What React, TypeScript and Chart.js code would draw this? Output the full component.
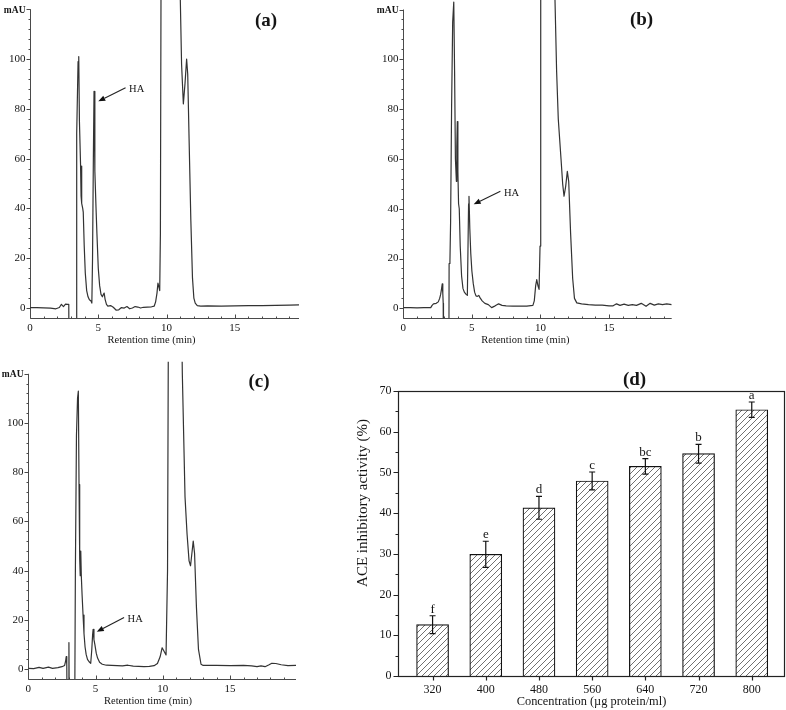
import React, { useEffect, useRef } from "react";
import { Chart, registerables } from "chart.js";

Chart.register(...registerables);

const SERIF = '"Liberation Serif", "Times New Roman", Times, serif';
const INK = "#151515";
const TRACE = "#333333";
const AXIS = "#4a4a4a";

// ---------- Panel (a) chromatogram ----------
const A_TIME = [0, 0.5, 1.0, 1.5, 1.9, 2.15, 2.3, 2.45, 2.6, 2.75, 2.84, 2.86, 3.37, 3.42, 3.52, 3.57, 3.62, 3.7, 3.74, 3.77, 3.8, 3.86, 3.9, 3.97, 4.05, 4.15, 4.25, 4.35, 4.47, 4.53, 4.58, 4.64, 4.69, 4.75, 4.83, 4.9, 5.0, 5.1, 5.2, 5.3, 5.38, 5.43, 5.5, 5.6, 5.7, 5.9, 6.1, 6.3, 6.5, 6.7, 6.9, 7.1, 7.3, 7.5, 7.7, 7.9, 8.1, 8.3, 8.6, 8.9, 9.1, 9.2, 9.3, 9.37, 9.44, 9.5, 9.55, 9.6, 10.3, 10.95, 11.1, 11.23, 11.35, 11.47, 11.55, 11.65, 11.78, 11.9, 12.0, 12.1, 12.25, 12.5, 13.0, 14.0, 15.0, 16.0, 17.0, 18.0, 19.0, 19.7];
const A_MAU = [0.2, 0.2, 0.1, 0.0, -0.3, 0.2, 1.5, 0.6, 1.6, 1.5, 1.5, -30, -30, 70, 99, 101, 75, 58, 45, 57, 42, 40, 38.5, 25, 14, 7, 4.5, 3.3, 2.8, 2.0, 20, 60, 87, 55, 41, 30, 16, 9, 5.5, 4.5, 5.5, 6.0, 3.5, 1.5, 0.8, 1.0, 0.3, -0.8, -0.7, 0.2, 0.0, 0.6, -0.3, 0.0, 0.6, 0.4, 0.0, 0.3, 0.4, 0.5, 0.8, 2.5, 6, 10, 8.5, 7, 30, 140, 600, 140, 98, 82, 90, 100, 94, 68, 35, 12, 4, 2, 1, 0.8, 0.9, 0.8, 0.9, 1.0, 1.0, 1.1, 1.2, 1.3];
const A_HA_FROM = [7.0, 88.5];
const A_HA_TO = [5.0, 83];

// ---------- Panel (b) chromatogram ----------
const B_TIME = [0, 0.5, 1.0, 1.5, 2.0, 2.1, 2.2, 2.4, 2.55, 2.65, 2.72, 2.78, 2.84, 2.88, 2.91, 2.93, 3.32, 3.34, 3.4, 3.45, 3.52, 3.6, 3.68, 3.74, 3.8, 3.87, 3.9, 3.94, 3.98, 4.03, 4.08, 4.15, 4.25, 4.35, 4.45, 4.58, 4.67, 4.76, 4.79, 4.85, 4.92, 5.0, 5.1, 5.2, 5.3, 5.4, 5.5, 5.6, 5.75, 5.95, 6.2, 6.44, 6.7, 6.95, 7.2, 7.5, 8.0, 8.5, 9.0, 9.45, 9.55, 9.65, 9.73, 9.82, 9.9, 9.97, 10.02, 10.5, 10.95, 11.06, 11.18, 11.3, 11.5, 11.62, 11.72, 11.84, 11.96, 12.06, 12.2, 12.35, 12.48, 12.65, 13.0, 13.5, 14.0, 14.5, 15.0, 15.3, 15.55, 15.8, 16.1, 16.4, 16.7, 17.0, 17.35, 17.7, 18.0, 18.3, 18.6, 18.9, 19.2, 19.57];
const B_MAU = [0.3, 0.3, 0.2, 0.3, 0.3, 1.2, 1.8, 2.0, 2.6, 4.0, 5.5, 7.5, 9.8, 6, 2, -30, -30, 18, 19, 35, 80, 115, 123, 95, 60, 51, 65, 75, 55, 42, 40, 25, 13, 8, 6.5, 5.6, 5.2, 42, 45, 32, 22, 15, 10, 6.5, 5.0, 4.8, 5.2, 4.2, 3.0, 2.0, 1.5, 0.3, 1.0, 1.8, 1.2, 1.0, 0.9, 0.9, 0.9, 1.2, 3, 9, 11.5, 9, 7.6, 25, 140, 600, 150, 124, 95, 76, 60, 50, 45, 49, 55, 51, 30, 12, 4, 2.2, 1.8, 1.5, 1.3, 1.3, 1.0, 1.0, 1.8, 1.2, 1.7, 1.2, 1.5, 1.2, 2.0, 0.8, 2.0, 1.3, 1.8, 1.5, 1.8, 1.5];
const B_HA_FROM = [7.08, 47];
const B_HA_TO = [5.13, 41.8];

// ---------- Panel (c) chromatogram ----------
const C_TIME = [0, 0.4, 0.8, 1.1, 1.5, 1.8, 2.2, 2.5, 2.7, 2.78, 2.82, 2.86, 2.9, 2.98, 3.02, 3.06, 3.44, 3.5, 3.58, 3.66, 3.72, 3.77, 3.82, 3.86, 3.9, 3.94, 4.0, 4.07, 4.14, 4.22, 4.3, 4.4, 4.52, 4.64, 4.72, 4.78, 4.82, 4.88, 4.95, 5.05, 5.15, 5.3, 5.5, 5.8, 6.2, 6.6, 7.0, 7.4, 7.8, 8.2, 8.6, 9.0, 9.35, 9.6, 9.8, 9.95, 10.02, 10.12, 10.24, 10.35, 10.42, 10.9, 11.38, 11.45, 11.65, 11.8, 11.95, 12.06, 12.16, 12.26, 12.36, 12.5, 12.65, 12.84, 13.0, 14.0, 15.0, 16.0, 16.6, 17.0, 17.3, 17.6, 17.9, 18.1, 18.4, 18.8, 19.3, 19.9];
const C_MAU = [0.3, 0.2, 0.7, 0.3, 0.8, 0.3, 0.6, 1.0, 1.5, 3.5, 5.1, 2.0, -30, -30, 10.8, -30, -30, 40, 95, 110, 113, 75, 45, 38, 48, 38, 30, 22, 14.5, 9, 6, 4, 3, 2.4, 8, 14, 16.2, 12, 10, 6.5, 4.5, 2.8, 2.0, 1.6, 1.5, 1.4, 1.3, 1.6, 1.2, 1.1, 1.0, 1.1, 1.4, 2.3, 5.0, 8.7, 8.0, 7.0, 5.8, 40, 150, 600, 150, 120, 70, 55, 44, 42, 47, 52, 47, 25, 8, 2.0, 1.5, 1.5, 1.4, 1.5, 1.3, 1.0, 1.3, 1.0, 1.8, 2.4, 2.3, 1.8, 1.4, 1.5];
const C_HA_FROM = [7.12, 21];
const C_HA_TO = [5.09, 15.2];

// shared chromatogram axes
const MAU_TICKS = [0, 20, 40, 60, 80, 100];
const MAU_TOP = 120;
const MAU_MIN = -4;
const MAU_MINOR = 4;
const TIME_TICKS = [0, 5, 10, 15];
const TIME_MINOR = 1;
const TIME_TITLE_AT = 8.9;

// ---------- Panel (d) bar chart ----------
const CONC = [320, 400, 480, 560, 640, 720, 800];
const ACE = [12.6, 29.9, 41.3, 47.9, 51.5, 54.6, 65.4];
const ACE_SD = [2.2, 3.2, 2.8, 2.2, 1.9, 2.3, 1.9];
const LETTERS = ["f", "e", "d", "c", "bc", "b", "a"];
const ACE_TICKS = [0, 10, 20, 30, 40, 50, 60, 70];
const ACE_MINOR = 5;
const CONC_MIN = 268;
const CONC_MAX = 850;
const ACE_TITLE_AT = 42.5;

type Pad = { left: number; top: number; right: number; bottom: number };

type ChromProps = {
  time: number[];
  mau: number[];
  xMax: number;
  tag: string;
  tagX: number;
  tagY: number;
  haFrom: number[];
  haTo: number[];
  left: number;
  top: number;
  width: number;
  height: number;
  pad: Pad;
  clipTop: number;
};

function Chromatogram(p: ChromProps) {
  const ref = useRef<HTMLCanvasElement | null>(null);
  useEffect(() => {
    const canvas = ref.current;
    if (!canvas) return;
    const axes = {
      id: "chromAxes",
      beforeDatasetsDraw(chart: any) {
        const ctx = chart.ctx;
        const xs = chart.scales.x;
        const ys = chart.scales.y;
        const L = Math.round(xs.left) + 0.5;
        const B = Math.round(ys.bottom) + 0.5;
        const T = ys.getPixelForValue(MAU_TOP);
        const R = xs.right;
        ctx.save();
        ctx.strokeStyle = AXIS;
        ctx.lineWidth = 1;
        ctx.beginPath();
        ctx.moveTo(L, T);
        ctx.lineTo(L, B);
        ctx.lineTo(R, B);
        for (let v = 0; v <= MAU_TOP; v += MAU_MINOR) {
          const y = Math.round(ys.getPixelForValue(v)) + 0.5;
          const len = v % 20 === 0 ? 4 : 2;
          ctx.moveTo(L - len, y);
          ctx.lineTo(L, y);
        }
        for (let t = 0; t <= p.xMax; t += TIME_MINOR) {
          const x = Math.round(xs.getPixelForValue(t)) + 0.5;
          const len = TIME_TICKS.includes(t) ? 4 : 2;
          ctx.moveTo(x, B);
          ctx.lineTo(x, B - len);
        }
        ctx.stroke();
        ctx.fillStyle = INK;
        ctx.font = `11px ${SERIF}`;
        ctx.textAlign = "right";
        ctx.textBaseline = "middle";
        MAU_TICKS.forEach((v) => ctx.fillText(String(v), L - 5, ys.getPixelForValue(v)));
        ctx.font = `bold 9.5px ${SERIF}`;
        ctx.fillText("mAU", L - 5, T + 1);
        ctx.font = `11px ${SERIF}`;
        ctx.textAlign = "center";
        TIME_TICKS.forEach((t) => ctx.fillText(String(t), xs.getPixelForValue(t), B + 10));
        ctx.font = `10.5px ${SERIF}`;
        ctx.fillText("Retention time (min)", xs.getPixelForValue(TIME_TITLE_AT), B + 22);
        ctx.restore();
      },
      afterDraw(chart: any) {
        const ctx = chart.ctx;
        const xs = chart.scales.x;
        const ys = chart.scales.y;
        ctx.save();
        ctx.fillStyle = INK;
        ctx.font = `bold 19px ${SERIF}`;
        ctx.textAlign = "center";
        ctx.textBaseline = "middle";
        ctx.fillText(p.tag, p.tagX, p.tagY);
        // HA arrow
        const x1 = xs.getPixelForValue(p.haFrom[0]);
        const y1 = ys.getPixelForValue(p.haFrom[1]);
        const x2 = xs.getPixelForValue(p.haTo[0]);
        const y2 = ys.getPixelForValue(p.haTo[1]);
        const ang = Math.atan2(y2 - y1, x2 - x1);
        const hl = 7;
        const hw = 2.8;
        const bx = x2 - hl * Math.cos(ang);
        const by = y2 - hl * Math.sin(ang);
        ctx.strokeStyle = "#222";
        ctx.lineWidth = 1.1;
        ctx.beginPath();
        ctx.moveTo(x1, y1);
        ctx.lineTo(bx, by);
        ctx.stroke();
        ctx.fillStyle = "#111";
        ctx.beginPath();
        ctx.moveTo(x2, y2);
        ctx.lineTo(bx + hw * Math.sin(ang), by - hw * Math.cos(ang));
        ctx.lineTo(bx - hw * Math.sin(ang), by + hw * Math.cos(ang));
        ctx.closePath();
        ctx.fill();
        ctx.fillStyle = INK;
        ctx.font = `10.5px ${SERIF}`;
        ctx.textAlign = "left";
        ctx.textBaseline = "middle";
        ctx.fillText("HA", x1 + 3.5, y1 + 1.5);
        ctx.restore();
      },
    };
    const chart = new Chart(canvas, {
      type: "line",
      data: {
        datasets: [
          {
            data: p.time.map((t, i) => ({ x: t, y: p.mau[i] })),
            borderColor: TRACE,
            borderWidth: 1.2,
            pointRadius: 0,
            tension: 0,
            fill: false,
            borderJoinStyle: "round",
            clip: { left: 0, top: p.clipTop, right: 0, bottom: 0 },
          } as any,
        ],
      },
      options: {
        responsive: false,
        animation: false,
        events: [],
        layout: { padding: p.pad },
        plugins: { legend: { display: false }, tooltip: { enabled: false } },
        scales: {
          x: { type: "linear", min: 0, max: p.xMax, display: false },
          y: { type: "linear", min: MAU_MIN, max: MAU_TOP, display: false },
        },
      },
      plugins: [axes],
    });
    return () => chart.destroy();
  }, []);
  return (
    <canvas
      ref={ref}
      width={p.width}
      height={p.height}
      style={{ position: "absolute", left: p.left, top: p.top, width: p.width, height: p.height }}
    />
  );
}

function BarPanel() {
  const ref = useRef<HTMLCanvasElement | null>(null);
  const W = 446;
  const H = 360;
  useEffect(() => {
    const canvas = ref.current;
    if (!canvas) return;
    const tile = document.createElement("canvas");
    const s = 6;
    tile.width = s;
    tile.height = s;
    const g = tile.getContext("2d")!;
    g.fillStyle = "#ffffff";
    g.fillRect(0, 0, s, s);
    g.strokeStyle = "#4d4d4d";
    g.lineWidth = 0.8;
    g.beginPath();
    g.moveTo(0, s);
    g.lineTo(s, 0);
    g.moveTo(-1, 1);
    g.lineTo(1, -1);
    g.moveTo(s - 1, s + 1);
    g.lineTo(s + 1, s - 1);
    g.stroke();
    const pattern = canvas.getContext("2d")!.createPattern(tile, "repeat");

    const frame = {
      id: "aceFrame",
      afterDatasetsDraw(chart: any) {
        const ctx = chart.ctx;
        const xs = chart.scales.x;
        const ys = chart.scales.y;
        const L = Math.round(xs.left) + 0.5;
        const R = Math.round(xs.right) - 0.5;
        const T = Math.round(ys.top) + 0.5;
        const B = Math.round(ys.bottom) + 0.5;
        ctx.save();
        // error bars + letters
        ctx.strokeStyle = "#111";
        ctx.lineWidth = 1.2;
        ctx.beginPath();
        CONC.forEach((c, i) => {
          const x = xs.getPixelForValue(c);
          const yt = ys.getPixelForValue(ACE[i] + ACE_SD[i]);
          const yb = ys.getPixelForValue(ACE[i] - ACE_SD[i]);
          ctx.moveTo(x, yt);
          ctx.lineTo(x, yb);
          ctx.moveTo(x - 3, yt);
          ctx.lineTo(x + 3, yt);
          ctx.moveTo(x - 3, yb);
          ctx.lineTo(x + 3, yb);
        });
        ctx.stroke();
        ctx.fillStyle = INK;
        ctx.font = `13px ${SERIF}`;
        ctx.textAlign = "center";
        ctx.textBaseline = "alphabetic";
        CONC.forEach((c, i) => {
          ctx.fillText(LETTERS[i], xs.getPixelForValue(c), ys.getPixelForValue(ACE[i] + ACE_SD[i]) - 3);
        });
        // frame
        ctx.strokeStyle = "#222";
        ctx.lineWidth = 1.2;
        ctx.strokeRect(L, T, R - L, B - T);
        ctx.beginPath();
        for (let v = 0; v <= 70; v += ACE_MINOR) {
          const y = Math.round(ys.getPixelForValue(v)) + 0.5;
          const len = v % 10 === 0 ? 5 : 3;
          ctx.moveTo(L - len, y);
          ctx.lineTo(L, y);
        }
        CONC.forEach((c) => {
          const x = Math.round(xs.getPixelForValue(c)) + 0.5;
          ctx.moveTo(x, B);
          ctx.lineTo(x, B + 4);
        });
        ctx.stroke();
        // tick labels
        ctx.font = `12px ${SERIF}`;
        ctx.textAlign = "right";
        ctx.textBaseline = "middle";
        ACE_TICKS.forEach((v) => ctx.fillText(String(v), L - 7, ys.getPixelForValue(v)));
        ctx.textAlign = "center";
        CONC.forEach((c) => ctx.fillText(String(c), xs.getPixelForValue(c), B + 13));
        ctx.font = `12.4px ${SERIF}`;
        ctx.fillText("Concentration (\u00b5g protein/ml)", (L + R) / 2, B + 25);
        ctx.save();
        ctx.translate(L - 35, ys.getPixelForValue(ACE_TITLE_AT));
        ctx.rotate(-Math.PI / 2);
        ctx.font = `15px ${SERIF}`;
        ctx.fillText("ACE inhibitory activity (%)", 0, 0);
        ctx.restore();
        ctx.font = `bold 19px ${SERIF}`;
        ctx.fillText("(d)", 294.5, 30);
        ctx.restore();
      },
    };

    const chart = new Chart(canvas, {
      type: "bar",
      data: {
        datasets: [
          {
            data: CONC.map((c, i) => ({ x: c, y: ACE[i] })),
            backgroundColor: pattern as any,
            borderColor: "#111",
            borderWidth: 1.2,
            barThickness: 32,
          } as any,
        ],
      },
      options: {
        responsive: false,
        animation: false,
        events: [],
        layout: { padding: { left: 58, top: 41, right: 1, bottom: 34 } },
        plugins: { legend: { display: false }, tooltip: { enabled: false } },
        scales: {
          x: { type: "linear", min: CONC_MIN, max: CONC_MAX, offset: false, display: false },
          y: { type: "linear", min: 0, max: 70, display: false },
        },
      },
      plugins: [frame],
    });
    return () => chart.destroy();
  }, []);
  return (
    <canvas
      ref={ref}
      width={W}
      height={H}
      style={{ position: "absolute", left: 340, top: 350, width: W, height: H }}
    />
  );
}

export default function App() {
  return (
    <div
      style={{
        position: "absolute",
        left: 0,
        top: 0,
        width: 786,
        height: 710,
        background: "#ffffff",
        overflow: "hidden",
      }}
    >
      <Chromatogram
        time={A_TIME}
        mau={A_MAU}
        xMax={19.7}
        tag="(a)"
        tagX={266}
        tagY={21}
        haFrom={A_HA_FROM}
        haTo={A_HA_TO}
        left={0}
        top={0}
        width={390}
        height={350}
        pad={{ left: 30, top: 9.2, right: 91, bottom: 32 }}
        clipTop={10}
      />
      <Chromatogram
        time={B_TIME}
        mau={B_MAU}
        xMax={19.57}
        tag="(b)"
        tagX={271.5}
        tagY={20}
        haFrom={B_HA_FROM}
        haTo={B_HA_TO}
        left={370}
        top={0}
        width={416}
        height={350}
        pad={{ left: 33.3, top: 9.5, right: 114.3, bottom: 31.7 }}
        clipTop={10}
      />
      <Chromatogram
        time={C_TIME}
        mau={C_MAU}
        xMax={19.9}
        tag="(c)"
        tagX={259}
        tagY={32}
        haFrom={C_HA_FROM}
        haTo={C_HA_TO}
        left={0}
        top={350}
        width={390}
        height={360}
        pad={{ left: 28.3, top: 23.8, right: 94, bottom: 31 }}
        clipTop={12}
      />
      <BarPanel />
    </div>
  );
}
